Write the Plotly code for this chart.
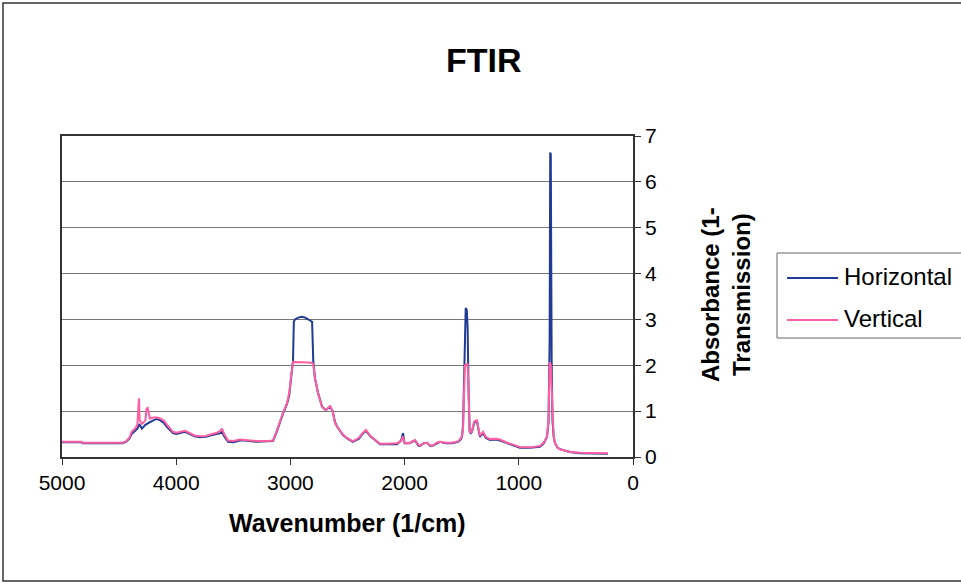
import plotly.graph_objects as go

# ---------------- data ----------------
wavenumber = [5000, 4830, 4820, 4470, 4440, 4410, 4390, 4360, 4340, 4330, 4326, 4320,
              4300, 4270, 4260, 4250, 4230, 4200, 4170, 4140, 4110, 4080, 4050, 4028,
              4000, 3960, 3923, 3880, 3840, 3792, 3740, 3686, 3640, 3610, 3599, 3580,
              3546, 3500, 3441, 3400, 3300, 3200, 3152, 3120, 3091, 3064, 3030, 3010,
              2995, 2980, 2977, 2970, 2960, 2930, 2900, 2870, 2840, 2810, 2800, 2785,
              2758, 2723, 2690, 2653, 2630, 2609, 2590, 2540, 2500, 2452, 2400, 2370,
              2338, 2300, 2259, 2215, 2150, 2067, 2030, 2014, 2000, 1960, 1909, 1880,
              1865, 1830, 1804, 1775, 1751, 1720, 1690, 1640, 1585, 1550, 1532, 1510,
              1497, 1488, 1480, 1472, 1465, 1455, 1448, 1440, 1430, 1420, 1410, 1390,
              1366, 1355, 1340, 1313, 1290, 1252, 1200, 1165, 1103, 1050, 990, 900,
              814, 780, 753, 740, 735, 730, 725, 720, 712, 705, 695, 683,
              660, 639, 600, 552, 464, 350, 219]

horizontal = [0.32, 0.32, 0.30, 0.30, 0.33, 0.40, 0.50, 0.56, 0.62, 0.68, 0.72, 0.70,
              0.62, 0.70, 0.72, 0.74, 0.76, 0.80, 0.83, 0.80, 0.75, 0.65, 0.58, 0.52,
              0.50, 0.52, 0.55, 0.50, 0.45, 0.43, 0.44, 0.48, 0.50, 0.52, 0.55, 0.45,
              0.33, 0.32, 0.36, 0.36, 0.33, 0.34, 0.35, 0.55, 0.76, 0.95, 1.15, 1.35,
              1.70, 2.02, 2.10, 2.95, 3.00, 3.04, 3.06, 3.04, 3.00, 2.95, 2.10, 1.72,
              1.40, 1.10, 1.02, 1.10, 1.00, 0.76, 0.66, 0.48, 0.40, 0.33, 0.40, 0.50,
              0.57, 0.45, 0.37, 0.28, 0.28, 0.28, 0.36, 0.52, 0.30, 0.30, 0.36, 0.25,
              0.24, 0.30, 0.31, 0.24, 0.25, 0.30, 0.33, 0.30, 0.30, 0.32, 0.33, 0.38,
              0.44, 0.70, 1.75, 2.30, 3.25, 3.20, 2.80, 1.45, 0.55, 0.52, 0.55, 0.75,
              0.78, 0.62, 0.44, 0.52, 0.42, 0.37, 0.38, 0.36, 0.30, 0.26, 0.20, 0.20,
              0.22, 0.30, 0.44, 0.75, 2.50, 2.55, 6.64, 6.60, 2.00, 0.80, 0.45, 0.30,
              0.20, 0.17, 0.14, 0.11, 0.08, 0.08, 0.07]

vertical = [0.33, 0.33, 0.31, 0.31, 0.34, 0.42, 0.55, 0.62, 0.70, 1.20, 1.28, 0.80,
            0.72, 0.80, 1.05, 1.07, 0.84, 0.86, 0.86, 0.84, 0.80, 0.70, 0.62, 0.55,
            0.53, 0.55, 0.57, 0.52, 0.47, 0.45, 0.46, 0.50, 0.53, 0.58, 0.62, 0.50,
            0.36, 0.35, 0.38, 0.37, 0.35, 0.35, 0.36, 0.57, 0.80, 0.97, 1.17, 1.40,
            1.74, 2.05, 2.07, 2.07, 2.07, 2.06, 2.07, 2.06, 2.06, 2.05, 2.02, 1.72,
            1.39, 1.09, 1.02, 1.11, 1.00, 0.74, 0.66, 0.49, 0.41, 0.34, 0.42, 0.52,
            0.59, 0.46, 0.38, 0.29, 0.29, 0.30, 0.35, 0.45, 0.30, 0.30, 0.37, 0.27,
            0.25, 0.30, 0.31, 0.25, 0.25, 0.31, 0.33, 0.31, 0.31, 0.33, 0.34, 0.40,
            0.46, 0.65, 1.72, 2.00, 2.02, 2.02, 2.02, 1.46, 0.55, 0.54, 0.56, 0.78,
            0.80, 0.65, 0.46, 0.55, 0.44, 0.39, 0.40, 0.38, 0.31, 0.27, 0.22, 0.21,
            0.24, 0.32, 0.45, 0.80, 2.00, 2.05, 2.05, 2.00, 1.50, 0.80, 0.45, 0.30,
            0.20, 0.17, 0.14, 0.11, 0.09, 0.08, 0.08]

series_names = ["Horizontal", "Vertical"]
series_colors = ["#203a96", "#ff5fa2"]
x_ticks = [5000, 4000, 3000, 2000, 1000, 0]
y_ticks = [0, 1, 2, 3, 4, 5, 6, 7]

# ---------------- layout geometry (pixels) ----------------
W, H = 961, 584
L, R, T, B = 62, 633, 136, 457
PW, PH = R - L, B - T


def px(x):
    return (x - L) / PW


def py(y):
    return (B - y) / PH


FONT = "Liberation Sans, Arial, sans-serif"

fig = go.Figure()
for name, ys, col in zip(series_names, [horizontal, vertical], series_colors):
    fig.add_trace(go.Scatter(x=wavenumber, y=ys, mode="lines", name=name,
                             line=dict(color=col, width=2), showlegend=False))

fig.update_layout(
    width=W, height=H,
    margin=dict(l=L, r=W - R, t=T, b=H - B, autoexpand=False),
    paper_bgcolor="white", plot_bgcolor="white",
    font=dict(family=FONT, color="black"),
    xaxis=dict(range=[5000, 0], tickvals=x_ticks, ticks="outside", ticklen=6,
               tickcolor="#333", showgrid=False, zeroline=False,
               showline=True, linecolor="#333", linewidth=1.5, mirror=True,
               tickfont=dict(size=21, family=FONT)),
    yaxis=dict(range=[0, 7], tickvals=y_ticks, side="right", ticks="outside",
               ticklen=6, tickcolor="#333", showgrid=True, gridcolor="#777",
               gridwidth=1, zeroline=False, showline=True, linecolor="#333",
               linewidth=1.5, mirror=True, tickfont=dict(size=21, family=FONT)),
)

shapes = [
    # outer chart border
    dict(type="rect", xref="paper", yref="paper", x0=px(3), x1=px(975),
         y0=py(581), y1=py(3), line=dict(color="#333", width=1.5)),
    # legend box
    dict(type="rect", xref="paper", yref="paper", x0=px(777), x1=px(975),
         y0=py(338), y1=py(253), line=dict(color="#666", width=1)),
]
for i, (name, col) in enumerate(zip(series_names, series_colors)):
    yy = [278, 320][i]
    shapes.append(dict(type="line", xref="paper", yref="paper", x0=px(787), x1=px(838),
                       y0=py(yy), y1=py(yy), line=dict(color=col, width=2)))
fig.update_layout(shapes=shapes)

annotations = [
    dict(text="<b>FTIR</b>", x=px(484), y=py(60), xref="paper", yref="paper",
         showarrow=False, xanchor="center", yanchor="middle",
         font=dict(size=34, family=FONT)),
    dict(text="<b>Wavenumber (1/cm)</b>", x=px(347), y=py(523), xref="paper",
         yref="paper", showarrow=False, xanchor="center", yanchor="middle",
         font=dict(size=25, family=FONT)),
    dict(text="<b>Absorbance (1-<br>Transmission)</b>", x=px(726), y=py(295),
         xref="paper", yref="paper", showarrow=False, textangle=-90,
         xanchor="center", yanchor="middle", align="center",
         font=dict(size=24, family=FONT)),
]
for i, name in enumerate(series_names):
    yy = [276, 318][i]
    annotations.append(dict(text=name, x=px(842), y=py(yy), xref="paper", yref="paper",
                            showarrow=False, xanchor="left", yanchor="middle",
                            font=dict(size=24, family=FONT)))
fig.update_layout(annotations=annotations)

fig.write_html("out.html")
